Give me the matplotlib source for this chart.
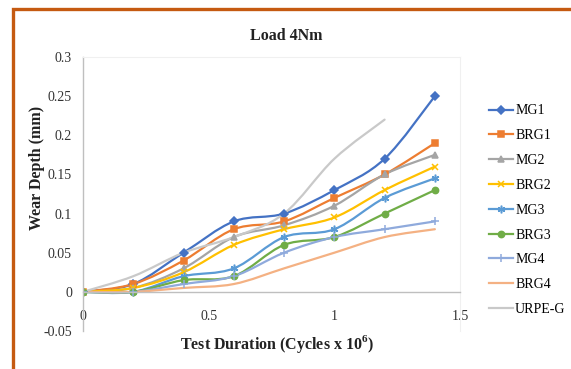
import matplotlib.pyplot as plt
import numpy as np
from matplotlib.lines import Line2D
from matplotlib.patches import PathPatch, Rectangle
from matplotlib.path import Path

plt.rcParams["font.family"] = ["Liberation Serif", "DejaVu Serif"]
plt.rcParams["mathtext.fontset"] = "custom"
plt.rcParams["mathtext.rm"] = "Liberation Serif"
plt.rcParams["mathtext.bf"] = "Liberation Serif:bold"

cycles = [0, 0.2, 0.4, 0.6, 0.8, 1.0, 1.2, 1.4]
mg1 = [0, 0.01, 0.05, 0.09, 0.10, 0.13, 0.17, 0.25]
brg1 = [0, 0.01, 0.04, 0.08, 0.09, 0.12, 0.15, 0.19]
mg2 = [0, 0.005, 0.03, 0.07, 0.085, 0.11, 0.15, 0.175]
brg2 = [0, 0.005, 0.025, 0.06, 0.08, 0.095, 0.13, 0.16]
mg3 = [0, 0, 0.02, 0.03, 0.07, 0.08, 0.12, 0.145]
brg3 = [0, 0, 0.015, 0.02, 0.06, 0.07, 0.10, 0.13]
mg4 = [0, 0, 0.01, 0.02, 0.05, 0.07, 0.08, 0.09]
brg4 = [0, 0, 0.005, 0.01, 0.03, 0.05, 0.07, 0.08]
urpe_cycles = [0, 0.2, 0.4, 0.6, 0.8, 1.0, 1.2]
urpe_g = [0, 0.02, 0.05, 0.07, 0.10, 0.17, 0.22]

series = [
    ("MG1", cycles, mg1, "#4472C4", "D", 4),
    ("BRG1", cycles, brg1, "#ED7D31", "s", 4.5),
    ("MG2", cycles, mg2, "#A5A5A5", "^", 5),
    ("BRG2", cycles, brg2, "#FFC000", "x", 5),
    ("MG3", cycles, mg3, "#5B9BD5", (6, 2, 0), 5.5),
    ("BRG3", cycles, brg3, "#70AD47", "o", 4.5),
    ("MG4", cycles, mg4, "#8FAADC", "+", 5.5),
    ("BRG4", cycles, brg4, "#F4B183", None, 0),
    ("URPE-G", urpe_cycles, urpe_g, "#C9C9C9", None, 0),
]


def smooth_path(xs, ys):
    # cubic bezier through every point, like a spreadsheet "smoothed line"
    pts = np.column_stack([xs, ys]).astype(float)
    n = len(pts)
    verts = [pts[0]]
    codes = [Path.MOVETO]
    for i in range(n - 1):
        p0 = pts[max(i - 1, 0)]
        p1 = pts[i]
        p2 = pts[i + 1]
        p3 = pts[min(i + 2, n - 1)]
        c1 = p1 + (p2 - p0) / 6.0
        c2 = p2 - (p3 - p1) / 6.0
        verts += [c1, c2, p2]
        codes += [Path.CURVE4] * 3
    return Path(verts, codes)


fig = plt.figure(figsize=(5.71, 3.69), dpi=100)
ax = fig.add_axes([83 / 571, 1 - 331 / 369, 377 / 571, 274 / 369])

handles = []
for name, xs, ys, color, marker, ms in series:
    patch = PathPatch(smooth_path(xs, ys), facecolor="none", edgecolor=color,
                      lw=1.6, capstyle="round", joinstyle="round")
    ax.add_patch(patch)
    if marker is not None:
        ax.plot(xs, ys, linestyle="none", marker=marker, ms=ms, color=color,
                mec=color, mew=1.1)
    handles.append(Line2D([], [], color=color, lw=1.6, marker=marker, ms=ms,
                          mew=1.1, label=name))

ax.set_xlim(0, 1.5)
ax.set_ylim(-0.05, 0.3)
ax.set_xticks([0, 0.5, 1, 1.5])
ax.set_xticklabels(["0", "0.5", "1", "1.5"])
ax.set_yticks([-0.05, 0, 0.05, 0.1, 0.15, 0.2, 0.25, 0.3])
ax.set_yticklabels(["-0.05", "0", "0.05", "0.1", "0.15", "0.2", "0.25", "0.3"])
ax.tick_params(length=0, labelsize=10, colors="#333333")
ax.tick_params(axis="y", pad=8)
ax.tick_params(axis="x", pad=13)

for side in ["top", "right"]:
    ax.spines[side].set_color("#F0F0F0")
    ax.spines[side].set_linewidth(0.8)
ax.spines["left"].set_color("#BFBFBF")
ax.spines["left"].set_linewidth(1.0)
ax.spines["bottom"].set_position(("data", 0))
ax.spines["bottom"].set_color("#BFBFBF")
ax.spines["bottom"].set_linewidth(1.0)

fig.text(286 / 571, 1 - 36 / 369, "Load 4Nm", ha="center", va="center",
         fontsize=11.5, fontweight="bold", color="#222222")
fig.text(37 / 571, 1 - 168 / 369, "Wear Depth (mm)", ha="center", va="center",
         rotation=90, fontsize=11.5, fontweight="bold", color="#222222")
fig.text(277 / 571, 1 - 344 / 369, r"Test Duration (Cycles x 10$^{\mathbf{6}}$)",
         ha="center", va="center", fontsize=11.5, fontweight="bold",
         color="#222222")

fig.legend(handles=handles, loc="upper left",
           bbox_to_anchor=(489 / 571, 1 - 104.5 / 369), frameon=False,
           fontsize=10, handlelength=1.73, handletextpad=0.15,
           labelspacing=0.85, borderaxespad=0, borderpad=0)

# orange frame round the whole figure
fig.patches.append(Rectangle((12.5 / 571, -0.2), 1.2, 1.2 - 8.5 / 369,
                             transform=fig.transFigure, fill=False,
                             edgecolor="#C55A11", lw=2.4))

fig.savefig("out.png", dpi=100)
